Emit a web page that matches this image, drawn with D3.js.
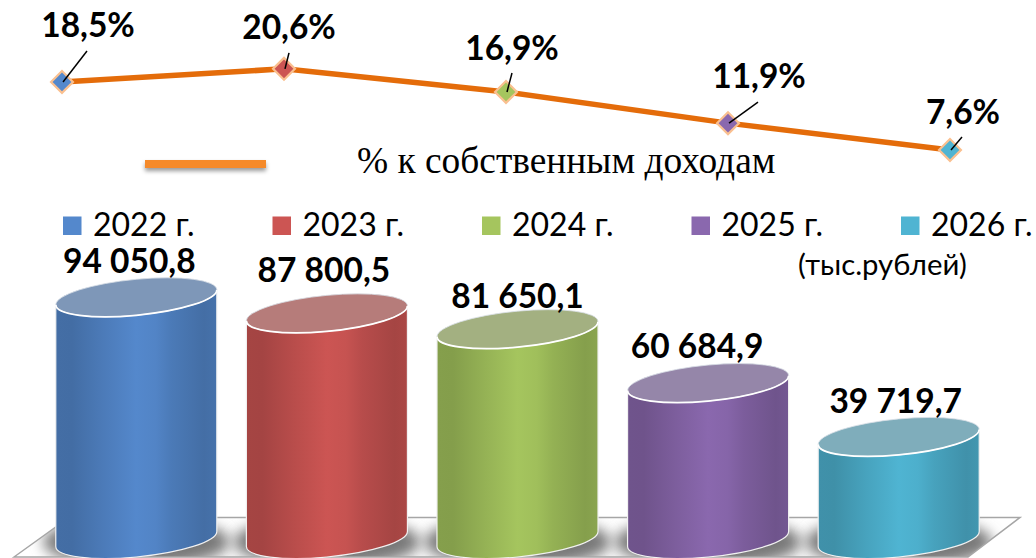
<!DOCTYPE html>
<html>
<head>
<meta charset="utf-8">
<script src="https://cdn.jsdelivr.net/npm/d3@7"></script>
<style>
  html, body { margin: 0; padding: 0; background: #fff; }
  svg { display: block; }
</style>
</head>
<body>
<svg id="chart"></svg>
<script>
// data
var years = ["2022 г.", "2023 г.", "2024 г.", "2025 г.", "2026 г."];
var amounts = [94050.8, 87800.5, 81650.1, 60684.9, 39719.7];
var amountLabels = ["94 050,8", "87 800,5", "81 650,1", "60 684,9", "39 719,7"];
var percents = [18.5, 20.6, 16.9, 11.9, 7.6];
var percentLabels = ["18,5%", "20,6%", "16,9%", "11,9%", "7,6%"];
var lineName = "% к собственным доходам";
var unitNote = "(тыс.рублей)";

// styles
var barColors = ["#5488CC", "#CC5553", "#A5C55E", "#8A68AE", "#4FB4D2"];
var topColors = ["#7E97B8", "#B67C7A", "#A3B081", "#9586A9", "#7FADBB"];
var lineColor = "#E46C0A";
var labelFont = "Lato, 'Open Sans', sans-serif";

// where the callouts sit relative to their mark
var percentOffsets = [[26, -45], [5, -30], [6, -32], [31, -35], [13, -26]];
var leaderEnds = [[25, -31], [5, -16], [6, -19], [30, -21], [12, -13]];
var amountOffsets = [[-7, -24], [-3, -31], [0, -21], [-11, -25], [-3, -24]];

var width = 1036, height = 558;
var svg = d3.select("svg#chart").attr("width", width).attr("height", height);
var defs = svg.append("defs");

// scales
var x = d3.scaleBand().domain(years).range([41, 994]).paddingInner(0.155).paddingOuter(0.0775);
var y = d3.scaleLinear().domain([0, 100000]).range([539, 282]);
var lineX = d3.scalePoint().domain(years).range([62, 950]);
var lineY = d3.scaleLinear().domain([0, 20]).range([197.4, 72.6]);

var barTilt = -5.3,
  capRy = 18;

// gradients for the cylinder sides
barColors.forEach(function (c, i) {
  var base = d3.rgb(c);
  var grad = defs.append("linearGradient").attr("id", "side" + i);
  var stops = [
    [0, base.darker(0.6)],
    [0.1, base.darker(0.62)],
    [0.3, base.darker(0.28)],
    [0.5, base],
    [0.62, base.darker(0.08)],
    [0.72, base.darker(0.3)],
    [0.92, base.darker(0.6)],
    [1, base.darker(0.5)],
  ];
  stops.forEach(function (s) {
    grad.append("stop").attr("offset", s[0]).attr("stop-color", s[1]);
  });
});

defs.append("filter").attr("id", "blur").attr("x", "-30%").attr("y", "-60%").attr("width", "160%").attr("height", "220%")
  .append("feGaussianBlur").attr("stdDeviation", 7);

var legendShadow = defs.append("filter").attr("id", "lineShadow").attr("x", "-10%").attr("y", "-100%").attr("width", "120%").attr("height", "400%");
legendShadow.append("feDropShadow").attr("dx", 0).attr("dy", 3).attr("stdDeviation", 2).attr("flood-color", "#000").attr("flood-opacity", 0.4);

// floor
var floorPts = [[14, 557], [69, 517.5], [1020, 517.5], [968, 557]];
defs.append("clipPath").attr("id", "floorClip").append("polygon").attr("points", floorPts.join(" "));

var floor = svg.append("g");
floor.append("polygon")
  .attr("points", floorPts.join(" "))
  .attr("fill", "#fff");

floor.append("g")
  .attr("clip-path", "url(#floorClip)")
  .selectAll("ellipse")
  .data(years)
  .enter()
  .append("ellipse")
  .attr("cx", function (d) { return x(d) + x.bandwidth() / 2; })
  .attr("cy", y(0) + 3)
  .attr("rx", x.bandwidth() / 2 + 13)
  .attr("ry", 25)
  .attr("fill", "#787878")
  .attr("filter", "url(#blur)");

floor.append("polygon")
  .attr("points", floorPts.join(" "))
  .attr("fill", "none")
  .attr("stroke", "#a6a6a6")
  .attr("stroke-width", 1.5);

// cylinders
var bars = svg.selectAll(".bar")
  .data(years)
  .enter()
  .append("g")
  .attr("class", "bar")
  .attr("transform", function (d, i) {
    return "translate(" + (x(d) + x.bandwidth() / 2) + "," + y(amounts[i]) + ") skewY(" + barTilt + ")";
  });

bars.append("path")
  .attr("d", function (d, i) {
    var a = x.bandwidth() / 2,
      h = y(0) - y(amounts[i]);
    return "M" + -a + ",0V" + h + "A" + a + "," + capRy + " 0 0 0 " + a + "," + h + "V0Z";
  })
  .attr("fill", function (d, i) { return "url(#side" + i + ")"; })
  .attr("stroke", "#f1f1f1")
  .attr("stroke-width", 1.2);

bars.append("ellipse")
  .attr("rx", x.bandwidth() / 2)
  .attr("ry", capRy)
  .attr("fill", function (d, i) { return topColors[i]; })
  .attr("stroke", "#d9dfe6")
  .attr("stroke-width", 0.8);

// white front rim of the cap
bars.append("path")
  .attr("d", function () {
    var a = x.bandwidth() / 2;
    return "M" + -a + ",0A" + a + "," + capRy + " 0 0 0 " + a + ",0";
  })
  .attr("fill", "none")
  .attr("stroke", "#fff")
  .attr("stroke-width", 1.8);

svg.selectAll(".amount")
  .data(amountLabels)
  .enter()
  .append("text")
  .attr("class", "amount")
  .attr("x", function (d, i) { return x(years[i]) + x.bandwidth() / 2 + amountOffsets[i][0]; })
  .attr("y", function (d, i) { return y(amounts[i]) + amountOffsets[i][1]; })
  .attr("text-anchor", "middle")
  .attr("font-family", labelFont)
  .attr("font-weight", 700)
  .attr("font-size", 33.5)
  .attr("fill", "#000")
  .text(function (d) { return d; });

// legend for the years
var legendX = d3.scalePoint().domain(years).range([63, 901]);
var legend = svg.selectAll(".legendItem")
  .data(years)
  .enter()
  .append("g")
  .attr("class", "legendItem")
  .attr("transform", function (d) { return "translate(" + legendX(d) + ",0)"; });

legend.append("rect")
  .attr("y", 216.5)
  .attr("width", 18.5)
  .attr("height", 18.5)
  .attr("fill", function (d, i) { return barColors[i]; });

legend.append("text")
  .attr("x", 30)
  .attr("y", 236)
  .attr("font-family", labelFont)
  .attr("font-size", 32)
  .attr("fill", "#000")
  .text(function (d) { return d; });

svg.append("text")
  .attr("x", 798)
  .attr("y", 275)
  .attr("font-family", labelFont)
  .attr("font-size", 29.3)
  .attr("fill", "#000")
  .text(unitNote);

// line legend
svg.append("rect")
  .attr("x", 145)
  .attr("y", 160)
  .attr("width", 121)
  .attr("height", 8)
  .attr("fill", "#F58A2B")
  .attr("filter", "url(#lineShadow)");

svg.append("text")
  .attr("x", 357)
  .attr("y", 173)
  .attr("font-family", "'Liberation Serif', serif")
  .attr("font-size", 37.4)
  .attr("fill", "#000")
  .text(lineName);

// percent line
var line = d3.line()
  .x(function (d, i) { return lineX(years[i]); })
  .y(function (d) { return lineY(d); });

svg.append("path")
  .attr("d", line(percents))
  .attr("fill", "none")
  .attr("stroke", lineColor)
  .attr("stroke-width", 5.5);

var diamond = d3.symbol().type(d3.symbolSquare).size(240);

svg.selectAll(".marker")
  .data(percents)
  .enter()
  .append("path")
  .attr("class", "marker")
  .attr("d", diamond)
  .attr("transform", function (d, i) {
    return "translate(" + lineX(years[i]) + "," + lineY(d) + ") rotate(45)";
  })
  .attr("fill", function (d, i) { return barColors[i]; })
  .attr("stroke", "#FAC090")
  .attr("stroke-width", 2.2);

svg.selectAll(".leader")
  .data(percents)
  .enter()
  .append("line")
  .attr("class", "leader")
  .attr("x1", function (d, i) { return lineX(years[i]) + 1; })
  .attr("y1", function (d) { return lineY(d); })
  .attr("x2", function (d, i) { return lineX(years[i]) + leaderEnds[i][0]; })
  .attr("y2", function (d, i) { return lineY(d) + leaderEnds[i][1]; })
  .attr("stroke", "#000")
  .attr("stroke-width", 1.5);

svg.selectAll(".percent")
  .data(percentLabels)
  .enter()
  .append("text")
  .attr("class", "percent")
  .attr("x", function (d, i) { return lineX(years[i]) + percentOffsets[i][0]; })
  .attr("y", function (d, i) { return lineY(percents[i]) + percentOffsets[i][1]; })
  .attr("text-anchor", "middle")
  .attr("font-family", labelFont)
  .attr("font-weight", 700)
  .attr("font-size", 33.5)
  .attr("fill", "#000")
  .text(function (d) { return d; });
</script>
</body>
</html>
